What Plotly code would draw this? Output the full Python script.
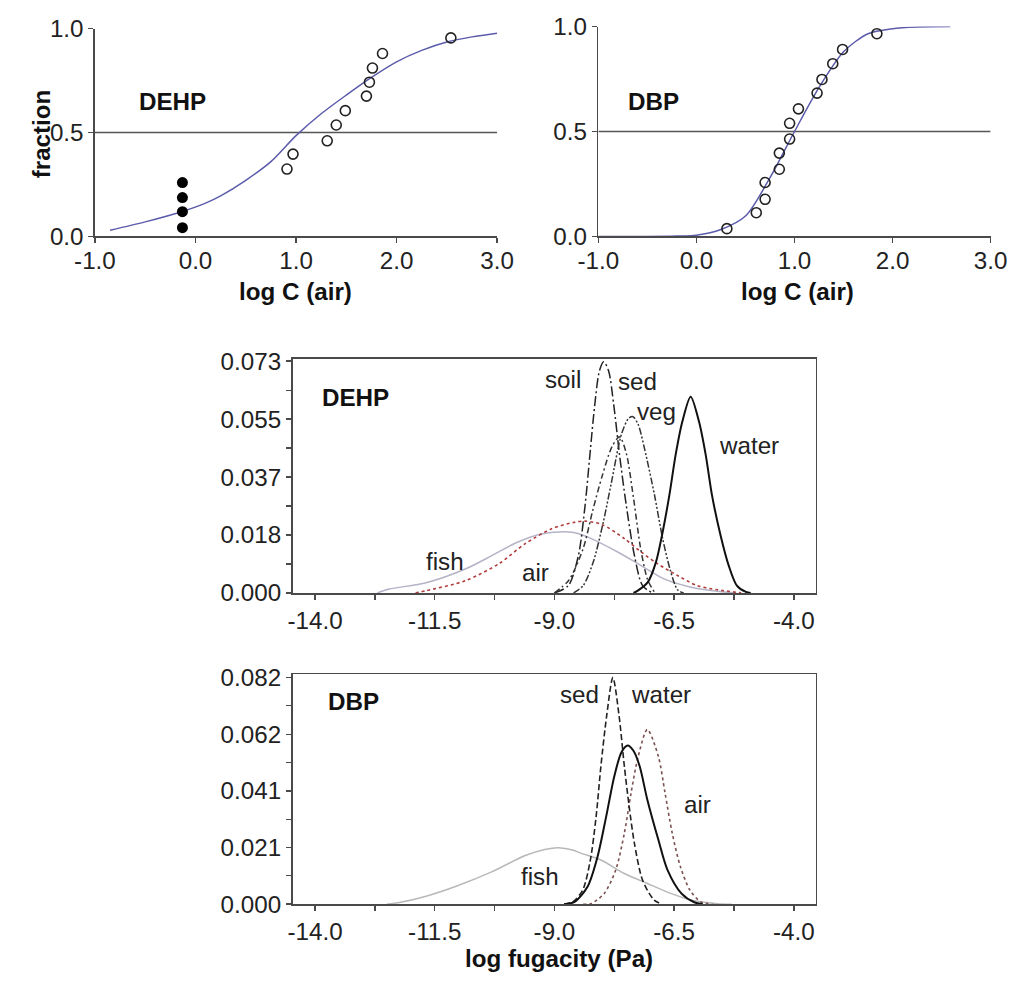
import plotly.graph_objects as go

# ---------------- data: top-left (DEHP) ----------------
dehp_fit_x = [-0.85, -0.5, -0.13, 0.1, 0.25, 0.5, 0.75, 1.0, 1.25, 1.5, 1.75, 2.0, 2.25, 2.5, 2.75, 3.0]
dehp_fit_y = [0.03, 0.07, 0.12, 0.16, 0.195, 0.27, 0.36, 0.485, 0.59, 0.68, 0.765, 0.84, 0.895, 0.935, 0.96, 0.978]
dehp_obs_x = [0.91, 0.97, 1.31, 1.40, 1.49, 1.70, 1.73, 1.76, 1.86, 2.54]
dehp_obs_y = [0.324, 0.396, 0.46, 0.536, 0.605, 0.675, 0.742, 0.81, 0.88, 0.955]
dehp_fill_x = [-0.13, -0.13, -0.13, -0.13]
dehp_fill_y = [0.259, 0.187, 0.119, 0.042]

# ---------------- data: top-right (DBP) ----------------
dbp_fit_x = [-1.0, -0.5, -0.2, 0.0, 0.25, 0.5, 0.75, 1.0, 1.25, 1.5, 1.75, 2.0, 2.25, 2.59]
dbp_fit_y = [0.0, 0.0, 0.002, 0.006, 0.033, 0.097, 0.28, 0.50, 0.71, 0.88, 0.966, 0.99, 0.998, 1.0]
dbp_obs_x = [0.31, 0.61, 0.70, 0.70, 0.845, 0.845, 0.95, 0.95, 1.04, 1.23, 1.28, 1.39, 1.49, 1.84]
dbp_obs_y = [0.037, 0.113, 0.177, 0.257, 0.32, 0.397, 0.464, 0.539, 0.608, 0.683, 0.748, 0.823, 0.891, 0.966]

frac_ticks = [0.0, 0.5, 1.0]
frac_ticktext = ["0.0", "0.5", "1.0"]
logc_ticks = [-1.0, 0.0, 1.0, 2.0, 3.0]
logc_ticktext = ["-1.0", "0.0", "1.0", "2.0", "3.0"]

# ---------------- data: middle (DEHP fugacity) ----------------
m_soil_x = [-9.0, -8.71, -8.5, -8.36, -8.26, -8.16, -8.06, -7.97, -7.87, -7.76, -7.64, -7.5, -7.33, -7.16, -6.95]
m_soil_y = [0.0, 0.0023, 0.0118, 0.0276, 0.0434, 0.059, 0.070, 0.0728, 0.070, 0.059, 0.0434, 0.0276, 0.0118, 0.0023, 0.0]
m_sed_x = [-9.0, -8.7, -8.4, -8.2, -8.0, -7.8, -7.64, -7.5, -7.35, -7.2, -7.05, -6.9]
m_sed_y = [0.0, 0.004, 0.014, 0.026, 0.037, 0.046, 0.0492, 0.044, 0.030, 0.014, 0.004, 0.0]
m_veg_x = [-8.6, -8.4, -8.19, -7.98, -7.81, -7.6, -7.45, -7.36, -7.25, -7.12, -6.91, -6.74, -6.57, -6.43, -6.3]
m_veg_y = [0.0, 0.0023, 0.0097, 0.0223, 0.0348, 0.050, 0.0550, 0.0555, 0.053, 0.0455, 0.0308, 0.0171, 0.0066, 0.001, 0.0]
m_water_x = [-7.35, -7.26, -7.05, -6.88, -6.74, -6.60, -6.47, -6.33, -6.155, -5.98, -5.84, -5.71, -5.53, -5.36, -5.19, -5.0, -4.9]
m_water_y = [0.0, 0.0007, 0.0034, 0.0097, 0.0192, 0.0308, 0.0434, 0.0539, 0.0618, 0.0539, 0.0434, 0.0308, 0.0181, 0.0086, 0.0023, 0.0003, 0.0]
m_air_x = [-11.9, -11.68, -10.85, -10.16, -9.61, -9.06, -8.6, -8.36, -8.0, -7.54, -7.19, -6.85, -6.43, -6.02, -5.6, -5.1]
m_air_y = [0.0, 0.0007, 0.0039, 0.0092, 0.0155, 0.0202, 0.0222, 0.0226, 0.0215, 0.0171, 0.0129, 0.0092, 0.0055, 0.0023, 0.0010, 0.0]
m_fish_x = [-12.7, -12.45, -11.68, -10.85, -10.3, -9.8, -9.3, -8.9, -8.6, -8.23, -7.67, -7.19, -6.71, -6.15, -5.6, -5.2]
m_fish_y = [0.0, 0.0012, 0.0032, 0.0076, 0.0118, 0.0158, 0.0185, 0.0192, 0.019, 0.0171, 0.0128, 0.0086, 0.0044, 0.0018, 0.0005, 0.0]

# ---------------- data: bottom (DBP fugacity) ----------------
b_sed_x = [-8.8, -8.62, -8.41, -8.25, -8.13, -8.03, -7.91, -7.78, -7.65, -7.54, -7.44, -7.33, -7.16, -6.92, -6.75]
b_sed_y = [0.0, 0.0008, 0.0051, 0.016, 0.0317, 0.0499, 0.0681, 0.082, 0.0681, 0.0499, 0.0354, 0.022, 0.0087, 0.0015, 0.0]
b_water_x = [-8.8, -8.58, -8.31, -8.10, -7.92, -7.75, -7.6, -7.47, -7.35, -7.22, -7.06, -6.83, -6.64, -6.35, -6.08, -5.9]
b_water_y = [0.0, 0.0008, 0.0063, 0.0172, 0.0317, 0.0463, 0.0550, 0.0574, 0.0555, 0.0499, 0.0378, 0.0233, 0.0124, 0.0039, 0.0007, 0.0]
b_air_x = [-8.4, -8.24, -7.96, -7.72, -7.54, -7.40, -7.25, -7.06, -6.83, -6.69, -6.54, -6.37, -6.17, -5.94, -5.7]
b_air_y = [0.0, 0.0002, 0.0039, 0.0124, 0.0257, 0.0402, 0.0535, 0.0632, 0.0535, 0.0402, 0.0257, 0.0136, 0.0051, 0.0008, 0.0]
b_fish_x = [-12.5, -12.27, -11.7, -11.04, -10.3, -9.61, -9.2, -8.92, -8.6, -8.44, -8.03, -7.54, -7.06, -6.57, -6.15, -5.6, -5.3]
b_fish_y = [0.0, 0.0005, 0.0028, 0.0066, 0.0118, 0.0176, 0.0198, 0.0204, 0.0195, 0.0184, 0.016, 0.0111, 0.0075, 0.0039, 0.0015, 0.0002, 0.0]

fug_ticks = [-14.0, -11.5, -9.0, -6.5, -4.0]
fug_ticktext = ["-14.0", "-11.5", "-9.0", "-6.5", "-4.0"]
fug_minor = [-12.75, -10.25, -7.75, -5.25]
m_yticks = [0.0, 0.01825, 0.0365, 0.05475, 0.073]
m_yticktext = ["0.000", "0.018", "0.037", "0.055", "0.073"]
m_yminor = [0.009125, 0.027375, 0.045625, 0.063875]
b_yticks = [0.0, 0.0205, 0.041, 0.0615, 0.082]
b_yticktext = ["0.000", "0.021", "0.041", "0.062", "0.082"]
b_yminor = [0.01025, 0.03075, 0.05125, 0.07175]

# ---------------- styling / placement ----------------
FONT = "Liberation Sans, Arial, sans-serif"
W, H = 1027, 983
SX, SY, PADPX = 0.9698, 0.9685, 16.0   # observed picture mapping: pic = s * (fig + pad)
FS = 1.0 / 0.97                          # font compensation for that scaling
AXC = "#4a4a4a"
TICKF = dict(family=FONT, size=round(23.5 * FS, 1), color="#222222")


def fx(p):
    return (p / SX - PADPX) / W


def fy(p):
    return 1 - (p / SY - PADPX) / H


fig = go.Figure()

# top-left
fig.add_trace(go.Scatter(x=[-1.0, 3.0], y=[0.5, 0.5], mode="lines", line=dict(color="#555555", width=1.6),
                         xaxis="x", yaxis="y", hoverinfo="skip"))
fig.add_trace(go.Scatter(x=dehp_fit_x, y=dehp_fit_y, mode="lines", line=dict(color="#5b5bab", width=1.5, shape="spline", smoothing=0.8),
                         xaxis="x", yaxis="y", cliponaxis=False))
fig.add_trace(go.Scatter(x=dehp_obs_x, y=dehp_obs_y, mode="markers",
                         marker=dict(symbol="circle-open", size=10, color="#222222", line=dict(width=1.6)),
                         xaxis="x", yaxis="y", cliponaxis=False))
fig.add_trace(go.Scatter(x=dehp_fill_x, y=dehp_fill_y, mode="markers",
                         marker=dict(symbol="circle", size=11, color="#000000"),
                         xaxis="x", yaxis="y", cliponaxis=False))

# top-right
fig.add_trace(go.Scatter(x=[-1.0, 3.0], y=[0.5, 0.5], mode="lines", line=dict(color="#555555", width=1.6),
                         xaxis="x2", yaxis="y2", hoverinfo="skip"))
fig.add_trace(go.Scatter(x=dbp_fit_x, y=dbp_fit_y, mode="lines", line=dict(color="#5b5bab", width=1.5, shape="spline", smoothing=0.8),
                         xaxis="x2", yaxis="y2", cliponaxis=False))
fig.add_trace(go.Scatter(x=dbp_obs_x, y=dbp_obs_y, mode="markers",
                         marker=dict(symbol="circle-open", size=10, color="#222222", line=dict(width=1.6)),
                         xaxis="x2", yaxis="y2", cliponaxis=False))

# middle
fig.add_trace(go.Scatter(x=m_fish_x, y=m_fish_y, mode="lines", line=dict(color="#b4b4c8", width=1.5, shape="spline", smoothing=0.8),
                         xaxis="x3", yaxis="y3"))
fig.add_trace(go.Scatter(x=m_air_x, y=m_air_y, mode="lines", line=dict(color="#b03c3c", width=1.6, dash="dot", shape="spline", smoothing=0.8),
                         xaxis="x3", yaxis="y3"))
fig.add_trace(go.Scatter(x=m_soil_x, y=m_soil_y, mode="lines", line=dict(color="#222222", width=1.5, dash="10px,3px,2px,3px", shape="spline", smoothing=0.8),
                         xaxis="x3", yaxis="y3"))
fig.add_trace(go.Scatter(x=m_sed_x, y=m_sed_y, mode="lines", line=dict(color="#333333", width=1.5, dash="6px,3px,2px,3px", shape="spline", smoothing=0.8),
                         xaxis="x3", yaxis="y3"))
fig.add_trace(go.Scatter(x=m_veg_x, y=m_veg_y, mode="lines", line=dict(color="#333333", width=1.5, dash="7px,2px,2px,2px,2px,2px", shape="spline", smoothing=0.8),
                         xaxis="x3", yaxis="y3"))
fig.add_trace(go.Scatter(x=m_water_x, y=m_water_y, mode="lines", line=dict(color="#111111", width=2.0, shape="spline", smoothing=0.8),
                         xaxis="x3", yaxis="y3"))

# bottom
fig.add_trace(go.Scatter(x=b_fish_x, y=b_fish_y, mode="lines", line=dict(color="#b8b8b8", width=1.5, shape="spline", smoothing=0.8),
                         xaxis="x4", yaxis="y4"))
fig.add_trace(go.Scatter(x=b_air_x, y=b_air_y, mode="lines", line=dict(color="#7a5050", width=1.6, dash="dot", shape="spline", smoothing=0.8),
                         xaxis="x4", yaxis="y4"))
fig.add_trace(go.Scatter(x=b_sed_x, y=b_sed_y, mode="lines", line=dict(color="#222222", width=1.6, dash="6px,3px", shape="spline", smoothing=0.8),
                         xaxis="x4", yaxis="y4"))
fig.add_trace(go.Scatter(x=b_water_x, y=b_water_y, mode="lines", line=dict(color="#111111", width=2.0, shape="spline", smoothing=0.8),
                         xaxis="x4", yaxis="y4"))


def ax_common(**kw):
    d = dict(showgrid=False, zeroline=False, showline=True, linecolor=AXC, linewidth=1.6,
             ticks="outside", ticklen=5, tickwidth=1.4, tickcolor=AXC, tickfont=TICKF,
             tickmode="array", fixedrange=True)
    d.update(kw)
    return d


def minor(vals):
    return dict(tickvals=vals, ticks="outside", ticklen=5, tickcolor=AXC, tickwidth=1.2)


layout = dict(
    width=W, height=H, autosize=False,
    margin=dict(l=0, r=0, t=0, b=0, pad=0),
    paper_bgcolor="white", plot_bgcolor="white",
    showlegend=False, hovermode=False,
    font=dict(family=FONT, color="#222222"),
    xaxis=ax_common(domain=[fx(90), fx(495)], range=[-1.0, 3.0], tickvals=logc_ticks, ticktext=logc_ticktext,
                    anchor="y", ticklabelstandoff=-3),
    yaxis=ax_common(domain=[fy(237), fy(30)], range=[0.0, 1.0], tickvals=frac_ticks, ticktext=frac_ticktext, anchor="x"),
    xaxis2=ax_common(domain=[fx(597), fx(992)], range=[-1.0, 3.0], tickvals=logc_ticks, ticktext=logc_ticktext,
                     anchor="y2", ticklabelstandoff=-3),
    yaxis2=ax_common(domain=[fy(237), fy(28)], range=[0.0, 1.0], tickvals=frac_ticks, ticktext=frac_ticktext, anchor="x2"),
    xaxis3=ax_common(domain=[fx(289), fx(816)], range=[-14.47, -3.54], tickvals=fug_ticks, ticktext=fug_ticktext,
                     mirror=True, anchor="y3", minor=minor(fug_minor)),
    yaxis3=ax_common(domain=[fy(592), fy(359)], range=[0.0, 0.0737], tickvals=m_yticks, ticktext=m_yticktext,
                     mirror=True, anchor="x3", minor=minor(m_yminor)),
    xaxis4=ax_common(domain=[fx(289), fx(816)], range=[-14.47, -3.54], tickvals=fug_ticks, ticktext=fug_ticktext,
                     mirror=True, anchor="y4", minor=minor(fug_minor)),
    yaxis4=ax_common(domain=[fy(902), fy(673)], range=[0.0, 0.0832], tickvals=b_yticks, ticktext=b_yticktext,
                     mirror=True, anchor="x4", minor=minor(b_yminor)),
)
fig.update_layout(**layout)

LBL = dict(family=FONT, size=round(23.5 * FS, 1), color="#222222")
BLD = dict(family=FONT, size=round(23.5 * FS, 1), color="#111111")
ann = [
    # axis titles
    dict(text="<b>fraction</b>", xref="paper", yref="paper", x=fx(36), y=fy(135), textangle=-90, font=BLD),
    dict(text="<b>log C (air)</b>", xref="paper", yref="paper", x=fx(292), y=fy(292), font=BLD),
    dict(text="<b>log C (air)</b>", xref="paper", yref="paper", x=fx(797), y=fy(292), font=BLD),
    dict(text="<b>log fugacity (Pa)</b>", xref="paper", yref="paper", x=fx(557), y=fy(956), font=BLD),
    # panel labels
    dict(text="<b>DEHP</b>", xref="x", yref="y", x=-0.23, y=0.65, font=BLD),
    dict(text="<b>DBP</b>", xref="x2", yref="y2", x=-0.44, y=0.641, font=BLD),
    dict(text="<b>DEHP</b>", xref="x3", yref="y3", x=-13.16, y=0.0616, font=BLD),
    dict(text="<b>DBP</b>", xref="x4", yref="y4", x=-13.2, y=0.0733, font=BLD),
    # middle curve labels
    dict(text="soil", xref="x3", yref="y3", x=-8.82, y=0.0671, font=LBL),
    dict(text="sed", xref="x3", yref="y3", x=-7.26, y=0.0666, font=LBL),
    dict(text="veg", xref="x3", yref="y3", x=-6.87, y=0.0571, font=LBL),
    dict(text="water", xref="x3", yref="y3", x=-4.93, y=0.0463, font=LBL),
    dict(text="fish", xref="x3", yref="y3", x=-11.29, y=0.0098, font=LBL),
    dict(text="air", xref="x3", yref="y3", x=-9.40, y=0.0064, font=LBL),
    # bottom curve labels
    dict(text="sed", xref="x4", yref="y4", x=-8.47, y=0.0759, font=LBL),
    dict(text="water", xref="x4", yref="y4", x=-6.78, y=0.0759, font=LBL),
    dict(text="air", xref="x4", yref="y4", x=-6.02, y=0.036, font=LBL),
    dict(text="fish", xref="x4", yref="y4", x=-9.30, y=0.0099, font=LBL),
]
for a in ann:
    a.update(showarrow=False, xanchor="center", yanchor="middle")
fig.update_layout(annotations=ann)

fig.write_html(
    "out.html",
    config={"displayModeBar": False, "staticPlot": True},
    post_script="document.body.style.margin='0';document.body.style.overflow='hidden';"
                "document.documentElement.style.overflow='hidden';",
)
